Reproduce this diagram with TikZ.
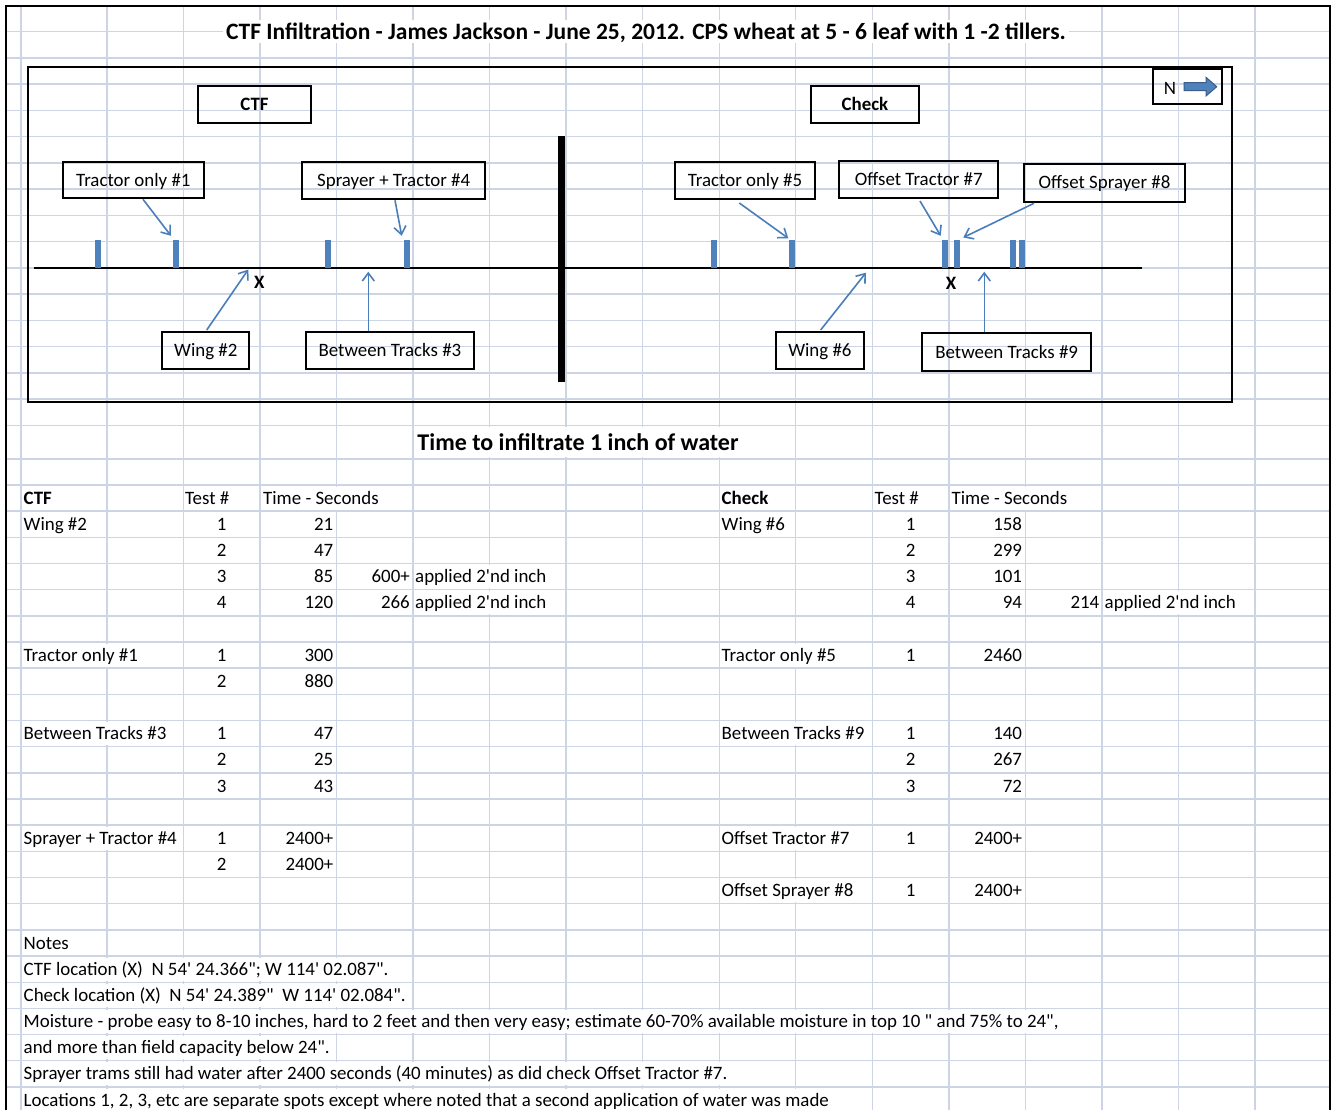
\documentclass[tikz,border=0pt]{standalone}
\usepackage{fontspec}
\setmainfont{Carlito}[Ligatures=TeXOff]
\usetikzlibrary{arrows.meta,calc}
\definecolor{gridc}{RGB}{205,213,228}
\definecolor{xlblue}{RGB}{79,129,189}
\definecolor{xlline}{RGB}{74,126,187}
\definecolor{xldark}{RGB}{56,93,138}
\newcommand{\cellfont}{\fontsize{18.9}{20}\selectfont}

\begin{document}
\begin{tikzpicture}[x=1pt,y=-1pt]
	\tikzstyle{gridline}=[gridc,line width=1.4pt]
	\tikzstyle{lbl}=[draw,line width=2pt,rectangle,inner sep=0pt,font=\cellfont,text height=12pt,text depth=0pt]
	\tikzstyle{track}=[fill=xlblue,rectangle,inner sep=0pt,minimum width=6pt,minimum height=28pt]
	\tikzstyle{pointer}=[xlline,line width=1.6pt,-{Straight Barb[length=8pt,width=12pt]}]
	\tikzstyle{cell}=[fill=white,inner xsep=1pt,inner ysep=0pt,minimum height=23pt,font=\cellfont,text height=12pt,text depth=0pt]
	\tikzstyle{hcell}=[cell,font=\cellfont\bfseries]

	\useasboundingbox (0,0) rectangle (1331,1110);
	\fill[white] (0,0) rectangle (1331,1110);

	% spreadsheet grid
	\draw[gridline] (21,6) -- (21,1110);
	\foreach \i in {0,...,15}
		\draw[gridline] ({107+76.53*\i},6) -- ({107+76.53*\i},1110);
	\foreach \i in {0,...,15}
		\draw[gridline] (6,{31.7+26.24*\i}) -- (1330,{31.7+26.24*\i});
	\foreach \j in {0,...,24}
		\draw[gridline] (6,{458.8+26.17*\j}) -- (1330,{458.8+26.17*\j});
	\draw[line width=2.5pt] (6,1110) -- (6,6) -- (1330,6) -- (1330,1110);

	\node[hcell,font=\fontsize{23.5}{25}\selectfont\bfseries,text height=16pt,inner xsep=3pt] (ttl) at (646,32) {CTF Infiltration - James Jackson - June 25, 2012. CPS wheat at 5 - 6 leaf with 1 -2 tillers.};

	% field sketch
	\draw[line width=2pt] (27.7,66.7) rectangle (1231.7,401.7);
	\coordinate (g1) at (34.3,267.7);
	\coordinate (g2) at (1141.7,267.7);
	\draw[line width=2pt] (g1) -- (g2);
	\coordinate (d1) at (561.7,136);
	\coordinate (d2) at (561.7,382.3);
	\draw[line width=6.5pt] (d1) -- (d2);

	\node[track] (k1) at (97.7,254) {};
	\node[track] (k2) at (175.7,254) {};
	\node[track] (k3) at (328.3,254) {};
	\node[track] (k4) at (407.3,254) {};
	\node[track] (k5) at (713.7,254) {};
	\node[track] (k6) at (792.3,254) {};
	\node[track] (k7) at (945,254) {};
	\node[track] (k8) at (956.7,254) {};
	\node[track] (k9) at (1012.5,254) {};
	\node[track] (k10) at (1022.2,254) {};

	\node[lbl,font=\cellfont\bfseries,minimum width=112.4pt,minimum height=37.3pt] (ctf) at (254.5,104.7) {CTF};
	\node[lbl,font=\cellfont\bfseries,minimum width=108.6pt,minimum height=37pt] (chk) at (865,104.5) {Check};
	\node[lbl,minimum width=68.7pt,minimum height=34.4pt] (nbox) at (1187.3,86.5) {};
	\node[font=\cellfont,inner sep=0pt] (nlet) at (1170,88) {N};
	\filldraw[fill=xlblue,draw=xldark,line width=1pt] (1184,82.7) -- (1206,82.7) -- (1206,77.3) -- (1216.7,86.7) -- (1206,96) -- (1206,90.7) -- (1184,90.7) -- cycle;

	\node[lbl,minimum width=141.3pt,minimum height=36pt] (tr1) at (133.4,180.3) {Tractor only \#1};
	\node[lbl,minimum width=182.7pt,minimum height=37pt] (sp4) at (393.7,180.8) {Sprayer + Tractor \#4};
	\node[lbl,minimum width=140pt,minimum height=37pt] (tr5) at (745,180.5) {Tractor only \#5};
	\node[lbl,minimum width=159pt,minimum height=37.3pt] (of7) at (918.8,179.7) {Offset Tractor \#7};
	\node[lbl,minimum width=161pt,minimum height=37.4pt] (os8) at (1104.5,183) {Offset Sprayer \#8};
	\node[lbl,minimum width=87pt,minimum height=36.7pt] (w2) at (205.8,350.7) {Wing \#2};
	\node[lbl,minimum width=167.7pt,minimum height=37pt] (bt3) at (389.9,350.5) {Between Tracks \#3};
	\node[lbl,minimum width=88.3pt,minimum height=37.3pt] (w6) at (819.9,350.3) {Wing \#6};
	\node[lbl,minimum width=168.7pt,minimum height=37.4pt] (bt9) at (1006.7,352) {Between Tracks \#9};

	\node[font=\cellfont\bfseries,inner sep=0pt] (x1) at (259.3,282.3) {X};
	\node[font=\cellfont\bfseries,inner sep=0pt] (x2) at (951,283.3) {X};

	\coordinate (p2) at (248.3,269.5);
	\coordinate (p3) at (368.3,271.7);
	\coordinate (p6) at (866,272.7);
	\coordinate (p9) at (984.3,271.7);

	\draw[pointer] ($(tr1.south)+(9.6,0)$) -- ($(k2.north)+(-4.7,-4)$);
	\draw[pointer] ($(sp4.south)+(1.3,0)$) -- ($(k4.north)+(-5.6,-4)$);
	\draw[pointer] ($(tr5.south)+(-5.7,3)$) -- ($(k6.north)+(-4,-1.5)$);
	\draw[pointer] ($(of7.south)+(1.2,1.7)$) -- ($(k7.north)+(-4.3,-4)$);
	\draw[pointer] ($(os8.south west)+(11,0.6)$) -- ($(k8.north)+(6.6,-2.3)$);
	\draw[pointer] ($(w2.north)+(0.9,-1.3)$) -- (p2);
	\draw[pointer] (bt3.north -| p3) -- (p3);
	\draw[pointer] ($(w6.north)+(0.8,-0.7)$) -- (p6);
	\draw[pointer] (bt9.north -| p9) -- (p9);

	% results table
	\node[hcell,font=\fontsize{24}{26}\selectfont\bfseries,text height=16pt,minimum height=30pt] (tti) at (578,442) {Time to infiltrate 1 inch of water};

	\node[hcell,anchor=west] (hctf) at (22.5,498.1) {CTF};
	\node[cell,anchor=west] (htl) at (184,498.1) {Test \#};
	\node[cell,anchor=west] (html) at (262,498.1) {Time - Seconds};
	\node[hcell,anchor=west] (hchk) at (720.5,498.1) {Check};
	\node[cell,anchor=west] (htr) at (873.5,498.1) {Test \#};
	\node[cell,anchor=west] (htmr) at (950.5,498.1) {Time - Seconds};

	\node[cell,anchor=west] (lw2) at (22.5,524.3) {Wing \#2};
	\node[cell] (a1) at (221.7,524.3) {1};
	\node[cell,anchor=east] (v1) at (334.5,524.3) {21};
	\node[cell] (a2) at (221.7,550.4) {2};
	\node[cell,anchor=east] (v2) at (334.5,550.4) {47};
	\node[cell] (a3) at (221.7,576.6) {3};
	\node[cell,anchor=east] (v3) at (334.5,576.6) {85};
	\node[cell,anchor=east] (s3) at (411,576.6) {600+};
	\node[cell,anchor=west] (n3) at (414,576.6) {applied 2'nd inch};
	\node[cell] (a4) at (221.7,602.8) {4};
	\node[cell,anchor=east] (v4) at (334.5,602.8) {120};
	\node[cell,anchor=east] (s4) at (411,602.8) {266};
	\node[cell,anchor=west] (n4) at (414,602.8) {applied 2'nd inch};

	\node[cell,anchor=west] (ltr1) at (22.5,655.1) {Tractor only \#1};
	\node[cell] (a6) at (221.7,655.1) {1};
	\node[cell,anchor=east] (v6) at (334.5,655.1) {300};
	\node[cell] (a7) at (221.7,681.3) {2};
	\node[cell,anchor=east] (v7) at (334.5,681.3) {880};

	\node[cell,anchor=west] (lbt3) at (22.5,733.6) {Between Tracks \#3};
	\node[cell] (a9) at (221.7,733.6) {1};
	\node[cell,anchor=east] (v9) at (334.5,733.6) {47};
	\node[cell] (a10) at (221.7,759.8) {2};
	\node[cell,anchor=east] (v10) at (334.5,759.8) {25};
	\node[cell] (a11) at (221.7,786) {3};
	\node[cell,anchor=east] (v11) at (334.5,786) {43};

	\node[cell,anchor=west] (lsp4) at (22.5,838.3) {Sprayer + Tractor \#4};
	\node[cell] (a13) at (221.7,838.3) {1};
	\node[cell,anchor=east] (v13) at (334.5,838.3) {2400+};
	\node[cell] (a14) at (221.7,864.5) {2};
	\node[cell,anchor=east] (v14) at (334.5,864.5) {2400+};

	\node[cell,anchor=west] (lw6) at (720.5,524.3) {Wing \#6};
	\node[cell] (b1) at (910.6,524.3) {1};
	\node[cell,anchor=east] (u1) at (1023.2,524.3) {158};
	\node[cell] (b2) at (910.6,550.4) {2};
	\node[cell,anchor=east] (u2) at (1023.2,550.4) {299};
	\node[cell] (b3) at (910.6,576.6) {3};
	\node[cell,anchor=east] (u3) at (1023.2,576.6) {101};
	\node[cell] (b4) at (910.6,602.8) {4};
	\node[cell,anchor=east] (u4) at (1023.2,602.8) {94};
	\node[cell,anchor=east] (t4) at (1100.5,602.8) {214};
	\node[cell,anchor=west] (m4) at (1103.5,602.8) {applied 2'nd inch};

	\node[cell,anchor=west] (ltr5) at (720.5,655.1) {Tractor only \#5};
	\node[cell] (b6) at (910.6,655.1) {1};
	\node[cell,anchor=east] (u6) at (1023.2,655.1) {2460};

	\node[cell,anchor=west] (lbt9) at (720.5,733.6) {Between Tracks \#9};
	\node[cell] (b9) at (910.6,733.6) {1};
	\node[cell,anchor=east] (u9) at (1023.2,733.6) {140};
	\node[cell] (b10) at (910.6,759.8) {2};
	\node[cell,anchor=east] (u10) at (1023.2,759.8) {267};
	\node[cell] (b11) at (910.6,786) {3};
	\node[cell,anchor=east] (u11) at (1023.2,786) {72};

	\node[cell,anchor=west] (lof7) at (720.5,838.3) {Offset Tractor \#7};
	\node[cell] (b13) at (910.6,838.3) {1};
	\node[cell,anchor=east] (u13) at (1023.2,838.3) {2400+};
	\node[cell,anchor=west] (los8) at (720.5,890.7) {Offset Sprayer \#8};
	\node[cell] (b15) at (910.6,890.7) {1};
	\node[cell,anchor=east] (u15) at (1023.2,890.7) {2400+};

	% notes
	\node[cell,anchor=west] (nt0) at (22.5,943) {Notes};
	\node[cell,anchor=west] (nt1) at (22.5,969.2) {CTF location (X)~ N 54' 24.366"; W 114' 02.087".};
	\node[cell,anchor=west] (nt2) at (22.5,995.3) {Check location (X)~ N 54' 24.389"~ W 114' 02.084".};
	\node[cell,anchor=west] (nt3) at (22.5,1021.5) {Moisture - probe easy to 8-10 inches, hard to 2 feet and then very easy; estimate 60-70\% available moisture in top 10 " and 75\% to 24",};
	\node[cell,anchor=west] (nt4) at (22.5,1047.7) {and more than field capacity below 24".};
	\node[cell,anchor=west] (nt5) at (22.5,1073.8) {Sprayer trams still had water after 2400 seconds (40 minutes) as did check Offset Tractor \#7.};
	\node[cell,anchor=west] (nt6) at (22.5,1100) {Locations 1, 2, 3, etc are separate spots except where noted that a second application of water was made};
\end{tikzpicture}
\end{document}
